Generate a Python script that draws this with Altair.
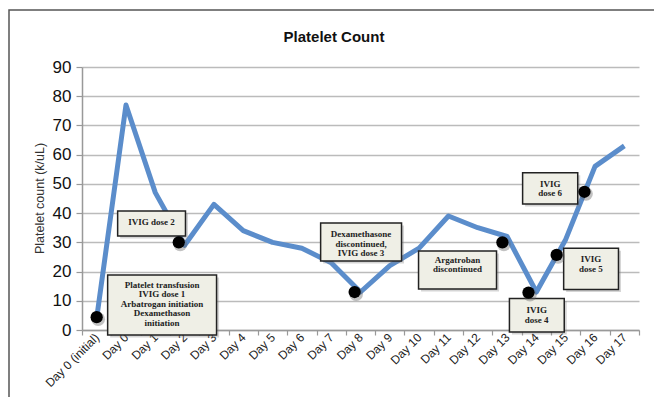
import json
import altair as alt
import pandas as pd

# ---------------- data ----------------
categories = ["Day 0 (initial)", "Day 0", "Day 1", "Day 2", "Day 3", "Day 4", "Day 5",
              "Day 6", "Day 7", "Day 8", "Day 9", "Day 10", "Day 11", "Day 12",
              "Day 13", "Day 14", "Day 15", "Day 16", "Day 17"]
platelets = [4, 77, 47, 29, 43, 34, 30, 28, 23, 13, 22, 28, 39, 35, 32, 13, 31, 56, 63]
y_ticks = [0, 10, 20, 30, 40, 50, 60, 70, 80, 90]

# event markers (x in category-index units, y in k/uL)
dot_x = [0.0, 2.8, 8.8, 13.84, 14.73, 15.69, 16.64]
dot_y = [4.4, 30, 13, 30, 12.8, 25.7, 47.3]

# annotation boxes (category-index / value units)
ann_text = [
    "Platelet transfusion\nIVIG dose 1\nArbatrogan initiation\nDexamethason\ninitiation",
    "IVIG dose 2",
    "Dexamethasone\ndiscontinued,\nIVIG dose 3",
    "Argatroban\ndiscontinued",
    "IVIG\ndose 4",
    "IVIG\ndose 5",
    "IVIG\ndose 6",
]
ann_x1 = [0.375, 0.716, 7.64, 10.98, 14.08, 15.93, 14.53]
ann_x2 = [4.09, 3.03, 10.40, 13.64, 15.95, 17.80, 16.41]
ann_y1 = [18.8, 40.7, 36.6, 27.0, 10.8, 28.0, 53.8]
ann_y2 = [-1.7, 32.2, 23.6, 14.0, -0.7, 13.9, 43.1]
ann_tx = [2.23, 1.87, 9.02, 12.31, 15.01, 16.86, 15.47]
ann_ty = [15.4, 36.8, 32.85, 23.96, 6.84, 24.2, 50.0]   # first text line

# ---------------- frames ----------------
line_df = pd.DataFrame({"idx": list(range(len(categories))), "cat": categories, "value": platelets})
dot_df = pd.DataFrame({"x": dot_x, "y": dot_y})
ann_df = pd.DataFrame({"text": ann_text, "x1": ann_x1, "x2": ann_x2, "y1": ann_y1,
                       "y2": ann_y2, "tx": ann_tx, "ty": ann_ty})
one = pd.DataFrame({"a": [0]})

W, H = 557, 263
FONT = "Liberation Sans"
SERIF = "Liberation Serif"

names_js = json.dumps(categories)
xscale = alt.Scale(domain=[-0.5, 18.5], nice=False, zero=False)
yscale = alt.Scale(domain=[0, 90], nice=False, zero=False)

x_vals = [i * 0.5 for i in range(-1, 2 * len(categories))]

x_axis = alt.Axis(
    values=x_vals,
    labelExpr=f"(datum.value % 1 == 0) ? {names_js}[datum.value] : ''",
    labelAngle=-45, labelAlign="right", labelBaseline="middle",
    labelFontSize=12, labelFont=FONT, labelColor="#222",
    labelPadding=0, labelOverlap=False, labelFlush=False, labelBound=False,
    tickSize=5, tickColor="#999", tickWidth=1.2,
    tickOpacity={"condition": {"test": "datum.value % 1 != 0", "value": 1}, "value": 0},
    domainColor="#999", domainWidth=1.5, grid=False, title=None,
)
y_axis = alt.Axis(
    values=y_ticks, grid=True, gridColor="#bbb", gridWidth=1.5,
    domainColor="#999", domainWidth=1.5, tickColor="#999", tickSize=6, tickWidth=1.2,
    labelFontSize=17, labelFont=FONT, labelColor="#111", labelPadding=5,
    labelOverlap=False,
    title="Platelet count (k/uL)", titleFontSize=12.5, titleFont=FONT,
    titleFontWeight="normal", titleColor="#333", titleX=-43, titleY=131,
    titleBaseline="middle", titleAlign="center", titleAngle=270,
)

frame = alt.Chart(one).mark_rect(fillOpacity=0, stroke="#555", strokeWidth=1.5).encode(
    x=alt.value(-73), x2=alt.value(620), y=alt.value(-57), y2=alt.value(360)
)

line = alt.Chart(line_df).mark_line(color="#5B8DCB", strokeWidth=5, strokeJoin="round").encode(
    x=alt.X("idx:Q", scale=xscale, axis=x_axis),
    y=alt.Y("value:Q", scale=yscale, axis=y_axis),
)

box_shadow = alt.Chart(ann_df).mark_rect(
    fill="#888", opacity=0.35, xOffset=2.5, x2Offset=2.5, yOffset=2.5, y2Offset=2.5
).encode(
    x=alt.X("x1:Q", scale=xscale, axis=x_axis), x2="x2:Q",
    y=alt.Y("y1:Q", scale=yscale, axis=y_axis), y2="y2:Q",
)

boxes = alt.Chart(ann_df).mark_rect(fill="#EFEFE6", stroke="#222", strokeWidth=1.5).encode(
    x=alt.X("x1:Q", scale=xscale, axis=x_axis), x2="x2:Q",
    y=alt.Y("y1:Q", scale=yscale, axis=y_axis), y2="y2:Q",
)

box_text = alt.Chart(ann_df).mark_text(
    font=SERIF, fontWeight="bold", fontSize=9, color="#222",
    lineBreak="\n", lineHeight=9.5, align="center", baseline="middle"
).encode(
    x=alt.X("tx:Q", scale=xscale, axis=x_axis),
    y=alt.Y("ty:Q", scale=yscale, axis=y_axis),
    text="text:N",
)

dot_shadow = alt.Chart(dot_df).mark_circle(color="#666", opacity=0.4, size=190, xOffset=1.5, yOffset=2).encode(
    x=alt.X("x:Q", scale=xscale, axis=x_axis),
    y=alt.Y("y:Q", scale=yscale, axis=y_axis),
)
dots = alt.Chart(dot_df).mark_circle(color="#000", opacity=1, size=150).encode(
    x=alt.X("x:Q", scale=xscale, axis=x_axis),
    y=alt.Y("y:Q", scale=yscale, axis=y_axis),
)

title = alt.Chart(one).mark_text(
    text="Platelet Count", font=FONT, fontSize=15, fontWeight="bold", color="#111",
    align="center", baseline="middle"
).encode(x=alt.value(252), y=alt.value(-30))

chart = alt.layer(
    frame, line, box_shadow, boxes, box_text, dot_shadow, dots, title
).properties(
    width=W, height=H,
    autosize=alt.AutoSizeParams(type="none"),
    padding={"left": 82, "top": 67, "right": 15, "bottom": 67},
    background="white",
).configure_view(stroke=None)

chart.save("out.html", embed_options={"renderer": "svg", "actions": False})
